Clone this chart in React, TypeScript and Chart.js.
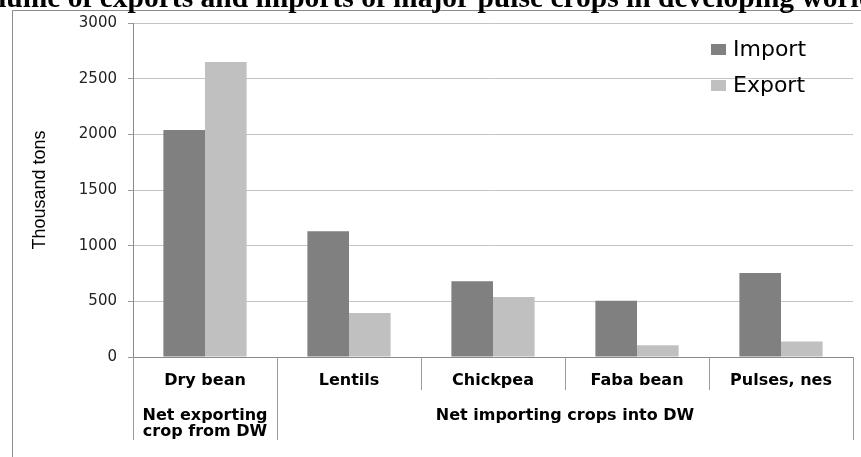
import React, { useEffect, useRef } from 'react';
import { Chart, registerables } from 'chart.js';

Chart.register(...registerables);

const TITLE = 'Volume of exports and imports of major pulse crops in developing world';
const categories = ['Dry bean', 'Lentils', 'Chickpea', 'Faba bean', 'Pulses, nes'];
const importValues = [2040, 1130, 680, 505, 755];
const exportValues = [2650, 395, 540, 105, 140];
const seriesNames = ['Import', 'Export'];
const seriesColors = ['#808080', '#c0c0c0'];
const yTicks = [0, 500, 1000, 1500, 2000, 2500, 3000];
const yAxisTitle = 'Thousand tons';
const groupNames = [['Net exporting', 'crop from DW'], ['Net importing crops into DW']];
const groupStarts = [0, 1];
const groupEnds = [0, 4];

const W = 861;
const H = 457;

const decorPlugin = {
  id: 'decor',
  beforeDraw(chart: any) {
    const ctx = chart.ctx;
    ctx.save();
    ctx.fillStyle = '#ffffff';
    ctx.fillRect(0, 0, chart.width, chart.height);
    // outer frame (left and top)
    ctx.strokeStyle = '#8c8c8c';
    ctx.lineWidth = 1;
    ctx.beginPath();
    ctx.moveTo(12.5, chart.height);
    ctx.lineTo(12.5, 10.5);
    ctx.lineTo(chart.width, 10.5);
    ctx.stroke();
    // clipped document title
    ctx.fillStyle = '#000000';
    ctx.font = 'bold 29.5px "Liberation Serif", "Times New Roman", serif';
    ctx.textAlign = 'center';
    ctx.textBaseline = 'alphabetic';
    ctx.fillText(TITLE, 420, 6.5);
    ctx.restore();
  },
  afterDraw(chart: any) {
    const ctx = chart.ctx;
    const xs = chart.scales.x;
    const area = chart.chartArea;
    const half = (xs.getPixelForValue(1) - xs.getPixelForValue(0)) / 2;
    const edge = (i: number) => xs.getPixelForValue(i) - half;
    const bottom = area.bottom;
    ctx.save();
    // category separators
    ctx.strokeStyle = '#9a9a9a';
    ctx.lineWidth = 1;
    const groupEdges = new Set<number>();
    groupStarts.forEach((s) => groupEdges.add(s));
    groupEnds.forEach((e) => groupEdges.add(e + 1));
    for (let i = 0; i <= categories.length; i++) {
      const px = Math.round(edge(i)) + 0.5;
      const len = groupEdges.has(i) ? 83 : 33;
      ctx.beginPath();
      ctx.moveTo(px, bottom);
      ctx.lineTo(px, bottom + len);
      ctx.stroke();
    }
    // group labels
    ctx.fillStyle = '#000000';
    ctx.font = 'bold 16px "DejaVu Sans", sans-serif';
    ctx.textAlign = 'center';
    ctx.textBaseline = 'alphabetic';
    groupNames.forEach((lines, g) => {
      const cx = (edge(groupStarts[g]) + edge(groupEnds[g] + 1)) / 2;
      lines.forEach((t, li) => {
        ctx.fillText(t, cx, bottom + 63 + li * 16);
      });
    });
    // legend inside plot area
    ctx.font = '22px "DejaVu Sans", sans-serif';
    ctx.textAlign = 'left';
    ctx.textBaseline = 'middle';
    chart.data.datasets.forEach((ds: any, i: number) => {
      const sx = area.right - 142;
      const cy = area.top + 26 + i * 36;
      ctx.fillStyle = ds.backgroundColor;
      ctx.fillRect(sx, cy - 5, 15, 11);
      ctx.fillStyle = '#000000';
      ctx.fillText(ds.label, sx + 22, cy + 1);
    });
    ctx.restore();
  },
};

export default function App() {
  const ref = useRef<HTMLCanvasElement | null>(null);
  useEffect(() => {
    if (!ref.current) return;
    const chart = new Chart(ref.current, {
      type: 'bar',
      data: {
        labels: categories,
        datasets: [
          {
            label: seriesNames[0],
            data: importValues,
            backgroundColor: seriesColors[0],
            borderWidth: 0,
            categoryPercentage: 0.578,
            barPercentage: 1.0,
          },
          {
            label: seriesNames[1],
            data: exportValues,
            backgroundColor: seriesColors[1],
            borderWidth: 0,
            categoryPercentage: 0.578,
            barPercentage: 1.0,
          },
        ],
      },
      options: {
        animation: false,
        responsive: false,
        devicePixelRatio: 1,
        layout: { padding: { left: 0, top: 23, right: 8, bottom: 0 } },
        plugins: {
          legend: { display: false },
          tooltip: { enabled: false },
          title: { display: false },
        },
        scales: {
          x: {
            grid: { display: false },
            border: { display: true, color: '#8a8a8a' },
            ticks: {
              padding: 6,
              color: '#000000',
              font: { family: '"DejaVu Sans", sans-serif', size: 16, weight: 'bold' },
              maxRotation: 0,
              autoSkip: false,
            },
            afterFit: (s: any) => {
              s.height = 100;
            },
          },
          y: {
            min: 0,
            max: 3000,
            afterBuildTicks: (s: any) => {
              s.ticks = yTicks.map((v) => ({ value: v }));
            },
            ticks: {
              padding: 11,
              color: '#222222',
              font: { family: '"DejaVu Sans", sans-serif', size: 15 },
              callback: (v: any) => String(v),
            },
            grid: {
              color: '#c4c4c4',
              lineWidth: 1,
              tickLength: 5,
              tickColor: '#9a9a9a',
              drawTicks: true,
            },
            border: { display: true, color: '#8a8a8a' },
            title: {
              display: true,
              text: yAxisTitle,
              color: '#000000',
              font: { family: '"Liberation Sans", Arial, sans-serif', size: 18 },
              padding: { top: 29, bottom: 0 },
            },
            afterFit: (s: any) => {
              s.width = 133;
            },
          },
        },
      },
      plugins: [decorPlugin],
    } as any);
    return () => chart.destroy();
  }, []);
  return (
    <div style={{ position: 'fixed', left: 0, top: 0, width: W, height: H, background: '#fff' }}>
      <canvas ref={ref} width={W} height={H} style={{ display: 'block', width: W, height: H }} />
    </div>
  );
}
